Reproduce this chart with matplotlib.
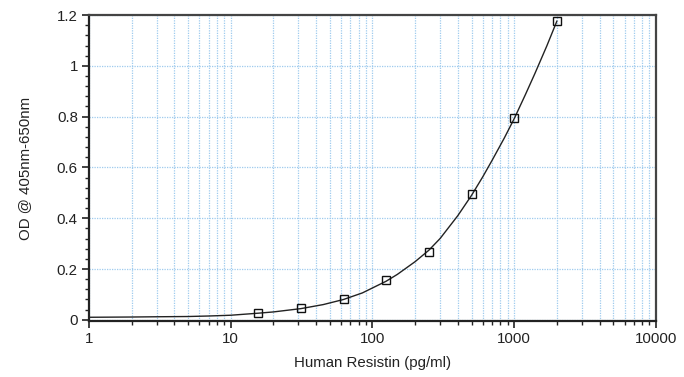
import matplotlib
matplotlib.use("Agg")
import matplotlib.pyplot as plt
from matplotlib.ticker import LogLocator, FixedLocator, MultipleLocator, NullFormatter

# Standard points
conc = [15.6, 31.25, 62.5, 125, 250, 500, 1000, 2000]
od = [0.027, 0.045, 0.08, 0.155, 0.268, 0.495, 0.795, 1.178]

# Fitted curve
curve_x = [1, 2, 3, 5, 7, 10, 15.6, 20, 31.25, 45, 62.5, 85, 125, 150, 200, 250,
           300, 400, 500, 600, 700, 850, 1000, 1200, 1400, 1700, 2000]
curve_y = [0.010, 0.011, 0.012, 0.013, 0.015, 0.018, 0.026, 0.031, 0.044, 0.060,
           0.080, 0.106, 0.152, 0.179, 0.229, 0.274, 0.320, 0.410, 0.490, 0.563,
           0.629, 0.715, 0.792, 0.887, 0.970, 1.079, 1.176]

x_ticks = [1, 10, 100, 1000, 10000]
x_tick_labels = ["1", "10", "100", "1000", "10000"]
y_ticks = [0, 0.2, 0.4, 0.6, 0.8, 1.0, 1.2]
y_tick_labels = ["0", "0.2", "0.4", "0.6", "0.8", "1", "1.2"]

plt.rcParams['font.family'] = ['Liberation Sans', 'DejaVu Sans']

fig = plt.figure(figsize=(6.84, 3.77), dpi=100)
ax = fig.add_axes([0.130, 0.149, 0.829, 0.811])

ax.set_xscale('log')
ax.set_xlim(1, 10000)
ax.set_ylim(-0.004, 1.2)

grid_color = '#9fcbee'
ax.xaxis.set_major_locator(FixedLocator(x_ticks))
ax.xaxis.set_minor_locator(LogLocator(base=10, subs=range(2, 10), numticks=20))
ax.xaxis.set_minor_formatter(NullFormatter())
ax.set_xticks(x_ticks)
ax.set_xticklabels(x_tick_labels)
ax.set_yticks(y_ticks)
ax.set_yticklabels(y_tick_labels)
ax.yaxis.set_minor_locator(MultipleLocator(0.04))

ax.grid(True, which='major', axis='both', color=grid_color, linestyle=(0, (1, 1)), linewidth=0.9)
ax.grid(True, which='minor', axis='x', color=grid_color, linestyle=(0, (1, 1)), linewidth=0.9)
ax.set_axisbelow(True)

ax.plot(curve_x, curve_y, color='#222222', linewidth=1.0, zorder=3)
ax.plot(conc, od, linestyle='none', marker='s', markersize=5.5, markerfacecolor='none',
        markeredgecolor='#111111', markeredgewidth=1.0, zorder=4)

for side in ['left', 'bottom']:
    ax.spines[side].set_color('#222222')
    ax.spines[side].set_linewidth(1.6)
for side in ['top', 'right']:
    ax.spines[side].set_color('#444444')
    ax.spines[side].set_linewidth(1.6)

ax.tick_params(axis='both', which='major', direction='out', length=5, width=1.2,
               labelsize=10.8, colors='#222222', pad=3)
ax.tick_params(axis='both', which='minor', direction='out', length=3, width=1.0,
               colors='#222222')

ax.set_xlabel('Human Resistin (pg/ml)', fontsize=10.8, color='#222222', labelpad=7)
ax.set_ylabel('OD @ 405nm-650nm', fontsize=10.8, color='#222222', labelpad=18)

fig.savefig('out.png', dpi=100, facecolor='white')
